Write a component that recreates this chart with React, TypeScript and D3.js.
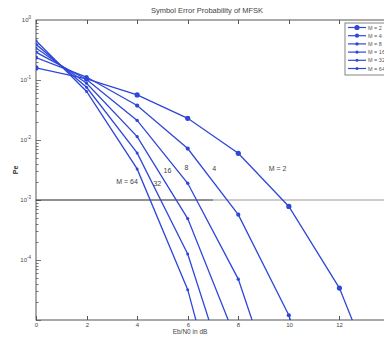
import React, { useEffect, useRef } from 'react';
import * as d3 from 'd3';

// Eb/N0 in dB and symbol error probability
const ebn0 = [0, 2, 4, 6, 8, 10, 12, 14];
const seriesLabels = ['M = 2', 'M = 4', 'M = 8', 'M = 16', 'M = 32', 'M = 64'];
const pe2 = [0.159, 0.104, 0.0565, 0.023, 0.006, 7.8e-4, 3.4e-5, 2.7e-7];
const pe4 = [0.236, 0.112, 0.0375, 0.0072, 5.7e-4, 1.2e-5, 2.7e-8];
const pe8 = [0.291, 0.102, 0.0212, 1.9e-3, 4.8e-5, 1.5e-7];
const pe16 = [0.341, 0.0885, 0.0114, 4.9e-4, 3.8e-6];
const pe32 = [0.393, 0.0756, 0.0061, 1.26e-4, 3.0e-7];
const pe64 = [0.451, 0.0643, 0.0033, 3.2e-5, 2.4e-8];
const markerSizes = [2.6, 2.1, 1.7, 1.6, 1.5, 1.5];

const xTicks = [0, 2, 4, 6, 8, 10, 12, 14];
const xTickLabels = ['0', '2', '4', '6', '8', '10', '12', ''];
const yTickExps = [0, -1, -2, -3, -4];

// threshold line
const thresholdPe = 1e-3;
const thresholdSplit = 7;

// curve annotations: [text, Eb/N0, Pe]
const annotations: [string, number, number][] = [
  ['M = 64', 3.6, 2.0e-3],
  ['32', 4.8, 1.9e-3],
  ['16', 5.2, 3.1e-3],
  ['8', 5.95, 3.5e-3],
  ['4', 7.05, 3.3e-3],
  ['M = 2', 9.55, 3.3e-3],
];

const W = 384;
const H = 338;
const BLUE = '#2f47d8';

const App: React.FC = () => {
  const svgRef = useRef<SVGSVGElement>(null);

  useEffect(() => {
    if (!svgRef.current) return;
    const svg = d3.select(svgRef.current);
    svg.selectAll('*').remove();

    const left = 36, right = 390, top = 20, bottom = 320;
    const font = 'Arial, "Liberation Sans", Helvetica, sans-serif';

    const x = d3.scaleLinear().domain([0, 14]).range([left, right]);
    const y = d3.scaleLog().domain([1e-5, 1]).range([bottom, top]);

    svg.append('rect').attr('width', W).attr('height', H).attr('fill', 'white');

    svg.append('defs').append('clipPath').attr('id', 'plot-clip')
      .append('rect')
      .attr('x', left).attr('y', top)
      .attr('width', right - left).attr('height', bottom - top);

    // Title
    svg.append('text')
      .attr('x', 207).attr('y', 13)
      .attr('text-anchor', 'middle')
      .style('font-family', font)
      .style('font-size', '7.5px')
      .attr('fill', '#444')
      .text('Symbol Error Probability of MFSK');

    // Axes box
    const axisColor = '#555';
    svg.append('rect')
      .attr('x', left).attr('y', top)
      .attr('width', right - left).attr('height', bottom - top)
      .attr('fill', 'none').attr('stroke', axisColor).attr('stroke-width', 1);

    // X ticks (inward, bottom and top)
    xTicks.forEach((t, i) => {
      const px = Math.round(x(t)) + 0.5;
      svg.append('line').attr('x1', px).attr('x2', px)
        .attr('y1', bottom).attr('y2', bottom - 4)
        .attr('stroke', axisColor);
      svg.append('line').attr('x1', px).attr('x2', px)
        .attr('y1', top).attr('y2', top + 4)
        .attr('stroke', axisColor);
      svg.append('text')
        .attr('x', px).attr('y', bottom + 7)
        .attr('text-anchor', 'middle')
        .style('font-family', font)
        .style('font-size', '6px')
        .attr('fill', '#444')
        .text(xTickLabels[i]);
    });

    // Y ticks: majors + log minors
    for (let e = -5; e < 0; e++) {
      for (let m = 1; m <= 9; m++) {
        const v = m * Math.pow(10, e);
        const py = Math.round(y(v)) + 0.5;
        const len = m === 1 ? 5 : 2.5;
        svg.append('line')
          .attr('x1', left).attr('x2', left + len)
          .attr('y1', py).attr('y2', py)
          .attr('stroke', axisColor).attr('stroke-width', 0.8);
      }
    }
    yTickExps.forEach(e => {
      const py = y(Math.pow(10, e));
      const txt = svg.append('text')
        .attr('x', 31).attr('y', py + 2)
        .attr('text-anchor', 'end')
        .style('font-family', font)
        .style('font-size', '6px')
        .attr('fill', '#444');
      txt.append('tspan').text('10');
      txt.append('tspan').attr('dy', -3).style('font-size', '4.5px').text(String(e));
    });

    // Axis labels
    svg.append('text')
      .attr('x', 190).attr('y', 334)
      .attr('text-anchor', 'middle')
      .style('font-family', font)
      .style('font-size', '6.5px')
      .attr('fill', '#444')
      .text('Eb/N0 in dB');

    svg.append('text')
      .attr('transform', `translate(18, 170) rotate(-90)`)
      .attr('text-anchor', 'middle')
      .style('font-family', font)
      .style('font-size', '7px')
      .style('font-weight', 'bold')
      .attr('fill', '#333')
      .text('Pe');

    // Threshold line
    svg.append('line')
      .attr('x1', x(0)).attr('x2', x(thresholdSplit))
      .attr('y1', y(thresholdPe)).attr('y2', y(thresholdPe))
      .attr('stroke', '#222').attr('stroke-width', 1);
    svg.append('line')
      .attr('x1', x(thresholdSplit)).attr('x2', W)
      .attr('y1', y(thresholdPe)).attr('y2', y(thresholdPe))
      .attr('stroke', '#999').attr('stroke-width', 1);

    // Curves
    const series = [pe2, pe4, pe8, pe16, pe32, pe64];
    const plot = svg.append('g').attr('clip-path', 'url(#plot-clip)');
    const line = d3.line<number>()
      .x((_, i) => x(ebn0[i]))
      .y(d => y(d));

    series.forEach((vals, si) => {
      plot.append('path')
        .attr('d', line(vals) || '')
        .attr('fill', 'none')
        .attr('stroke', BLUE)
        .attr('stroke-width', 1.3);
      plot.selectAll(null)
        .data(vals.map((v, i) => ({ x: ebn0[i], v })))
        .enter()
        .append('circle')
        .attr('cx', d => x(d.x))
        .attr('cy', d => y(d.v))
        .attr('r', markerSizes[si])
        .attr('fill', BLUE);
    });

    // Annotations
    annotations.forEach(([t, ax, ay]) => {
      svg.append('text')
        .attr('x', x(ax)).attr('y', y(ay) + 2.5)
        .attr('text-anchor', 'middle')
        .style('font-family', font)
        .style('font-size', '7px')
        .attr('fill', '#444')
        .text(t);
    });

    // Legend
    const legend = svg.append('g').attr('transform', 'translate(345, 23)');
    legend.append('rect')
      .attr('width', 50).attr('height', 52)
      .attr('fill', 'white').attr('stroke', '#666').attr('stroke-width', 0.8);
    seriesLabels.forEach((lab, i) => {
      const ly = 4.5 + i * 8.2;
      legend.append('line')
        .attr('x1', 3).attr('x2', 21)
        .attr('y1', ly).attr('y2', ly)
        .attr('stroke', BLUE).attr('stroke-width', 1.2);
      legend.append('circle')
        .attr('cx', 12).attr('cy', ly).attr('r', markerSizes[i])
        .attr('fill', BLUE);
      legend.append('text')
        .attr('x', 23).attr('y', ly + 2)
        .style('font-family', font)
        .style('font-size', '5.5px')
        .attr('fill', '#555')
        .text(lab);
    });
  }, []);

  return (
    <svg
      ref={svgRef}
      width={W}
      height={H}
      style={{ position: 'absolute', left: 0, top: 0, display: 'block' }}
    />
  );
};

export default App;
